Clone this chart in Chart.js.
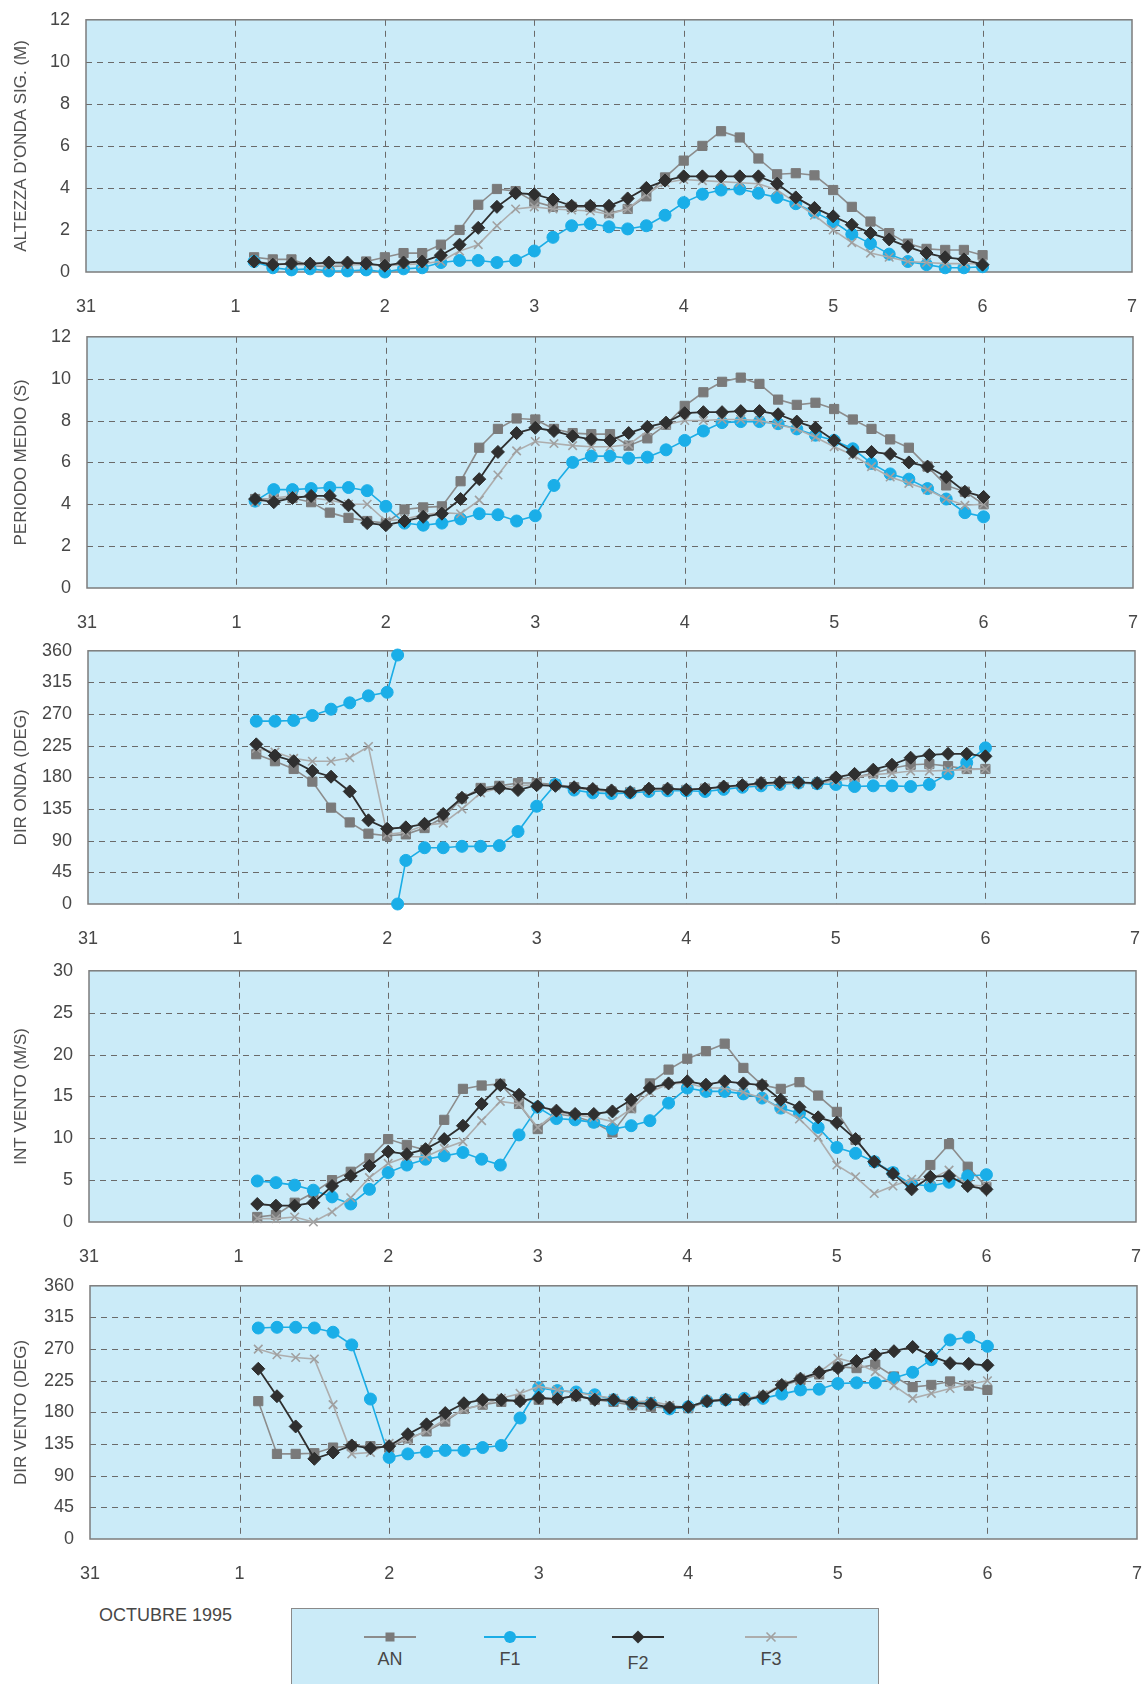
<!DOCTYPE html>
<html>
<head>
<meta charset="utf-8">
<script src="https://cdn.jsdelivr.net/npm/chart.js@4.4.1/dist/chart.umd.min.js"></script>
<style>
  html, body { margin:0; padding:0; background:#ffffff; }
  body { width:1145px; height:1684px; position:relative; overflow:hidden;
         font-family:"Liberation Sans", Arial, Helvetica, sans-serif; }
  .panel { position:absolute; left:0; width:1145px; }
  #caption { position:absolute; left:99px; top:1605px; font-size:18px; color:#474747; }
  #legend { position:absolute; left:291px; top:1608px; width:588px; height:100px;
            background:#cbebf8; border:1px solid #8a8a8a; box-sizing:border-box; }
  .lg { position:absolute; width:80px; text-align:center; font-size:18px; color:#474747; }
  .lg svg { display:block; margin:0 auto; }
</style>
</head>
<body>
<div id="caption">OCTUBRE 1995</div>
<div id="legend"></div>
<script>
// ---------- DATA ----------
const times = [1.125,1.25,1.375,1.5,1.625,1.75,1.875,2.0,2.125,2.25,
               2.375,2.5,2.625,2.75,2.875,3.0,3.125,3.25,3.375,3.5,
               3.625,3.75,3.875,4.0,4.125,4.25,4.375,4.5,4.625,4.75,
               4.875,5.0,5.125,5.25,5.375,5.5,5.625,5.75,5.875,6.0];
const xTickLabels = ['31','1','2','3','4','5','6','7'];
const seriesNames = ['AN','F1','F2','F3'];

// Altezza d'onda significativa (m)
const hsAN = [0.7,0.6,0.6,0.3,0.25,0.3,0.5,0.7,0.9,0.9, 1.3,2.0,3.2,3.95,3.85,3.35,3.1,3.1,3.1,2.8, 3.0,3.6,4.5,5.3,6.0,6.7,6.4,5.4,4.65,4.7, 4.6,3.9,3.1,2.4,1.85,1.35,1.1,1.05,1.05,0.8];
const hsF1 = [0.5,0.2,0.1,0.15,0.05,0.05,0.1,0.0,0.15,0.2, 0.45,0.55,0.55,0.45,0.55,1.0,1.65,2.2,2.3,2.15, 2.05,2.2,2.7,3.3,3.7,3.9,3.95,3.75,3.55,3.25, 2.85,2.4,1.8,1.35,0.85,0.5,0.35,0.2,0.2,0.25];
const hsF2 = [0.5,0.35,0.4,0.4,0.45,0.45,0.4,0.3,0.45,0.5, 0.8,1.3,2.1,3.1,3.75,3.7,3.45,3.15,3.15,3.15, 3.5,4.0,4.35,4.55,4.55,4.55,4.55,4.55,4.2,3.55, 3.05,2.65,2.25,1.85,1.55,1.2,0.9,0.7,0.6,0.35];
const hsF3 = [0.5,0.4,0.35,0.35,0.3,0.35,0.35,0.3,0.35,0.4, 0.5,1.0,1.3,2.2,3.0,3.1,3.0,2.95,2.9,2.75, 3.0,3.7,4.25,4.4,4.35,4.3,4.25,4.2,3.9,3.3, 2.7,2.0,1.4,0.9,0.7,0.5,0.45,0.4,0.4,0.4];

// Periodo medio (s)
const tmAN = [4.25,4.25,4.3,4.1,3.6,3.35,3.2,3.1,3.75,3.85, 3.9,5.1,6.7,7.6,8.1,8.05,7.6,7.4,7.35,7.35, 6.8,7.15,7.8,8.7,9.35,9.85,10.05,9.75,9.0,8.75, 8.85,8.55,8.05,7.6,7.1,6.7,5.8,4.9,4.6,4.0];
const tmF1 = [4.15,4.7,4.7,4.75,4.8,4.8,4.65,3.9,3.1,3.0, 3.1,3.3,3.55,3.5,3.2,3.45,4.9,6.0,6.3,6.3, 6.2,6.25,6.6,7.05,7.5,7.9,7.95,7.95,7.85,7.6, 7.3,7.05,6.65,5.95,5.45,5.2,4.75,4.25,3.6,3.4];
const tmF2 = [4.25,4.1,4.3,4.4,4.4,3.95,3.1,3.0,3.2,3.4, 3.55,4.25,5.2,6.5,7.4,7.65,7.5,7.25,7.1,7.05, 7.4,7.7,7.9,8.35,8.4,8.4,8.45,8.45,8.3,7.95, 7.65,7.05,6.5,6.5,6.4,6.0,5.8,5.3,4.6,4.35];
const tmF3 = [4.1,4.3,4.4,4.3,4.2,4.0,4.0,3.2,3.3,3.5, 3.6,3.55,4.2,5.4,6.55,7.0,6.9,6.8,6.75,6.75, 6.85,7.5,7.8,8.0,8.0,8.05,8.05,8.0,7.8,7.6, 7.2,6.75,6.35,5.8,5.3,5.0,4.7,4.25,3.95,4.0];

// Direzione onda (deg)
const dwAN = [213,203,192,174,137,116,100,97,99,108, 123,150,165,168,172,172,170,166,162,160, 159,162,163,162,164,166,168,171,172,172, 171,177,180,186,193,198,199,196,192,192];
const dwF1 = [260,260,261,268,277,286,296,301,62,80, 80,82,82,83,103,139,170,162,158,157, 158,160,161,161,160,163,166,168,170,172, 171,170,167,168,168,167,170,185,201,222];
const dwF2 = [227,211,203,189,181,160,119,107,109,114, 128,151,162,165,162,169,168,166,163.5,161.5, 159,164,164,162.5,164,167,169,172,173,173, 172,180,185,191,198,208,212,213.5,213.5,210];
const dwF3 = [221,216,207,203,203,208,224,99,102,112, 115,135,158,165,168,170,168,165,162,160, 160,162,163,163,164,166,168,170,171,172, 172,175,180,184,186,189,189,190,191,192];
// F1 wave direction crosses 360 -> 0 between 2.0 and 2.125
const dwF1WrapX = 2.07;
const dwF1WrapTop = 354;
const dwF1WrapBottom = 0;
const dwF1WrapAfterIndex = 7;

// Intensita vento (m/s)
const wsAN = [0.6,0.85,2.3,3.5,5.0,6.0,7.6,9.9,9.2,8.6, 12.2,15.9,16.3,16.5,14.1,11.1,12.9,12.6,11.9,10.7, 13.6,16.55,18.2,19.5,20.4,21.3,18.4,16.35,15.9,16.7, 15.1,13.15,9.8,7.2,5.9,4.3,6.8,9.3,6.6,4.2];
const wsF1 = [4.9,4.7,4.4,3.8,3.0,2.15,3.9,5.9,6.8,7.5, 7.9,8.3,7.5,6.8,10.4,13.7,12.35,12.2,11.9,11.1, 11.5,12.1,14.2,16.0,15.6,15.6,15.3,14.8,13.6,13.0, 11.3,8.9,8.2,7.2,5.9,4.5,4.3,4.75,5.5,5.65];
const wsF2 = [2.15,1.95,1.95,2.3,4.3,5.5,6.7,8.4,8.1,8.7, 9.9,11.5,14.1,16.35,15.2,13.8,13.3,12.9,12.9,13.2, 14.6,16.0,16.55,16.8,16.4,16.8,16.55,16.35,14.6,13.7, 12.5,11.85,9.9,7.2,5.75,3.9,5.4,5.5,4.3,3.9];
const wsF3 = [0.4,0.4,0.6,0.0,1.2,2.9,5.3,7.0,7.8,7.8, 8.8,9.6,12.1,14.4,14.1,11.3,13.1,12.8,12.5,12.0, 13.5,15.5,16.5,16.6,16.0,16.0,15.5,14.8,13.5,12.3, 10.1,6.8,5.4,3.4,4.3,5.1,5.1,6.2,4.4,4.3];

// Direzione vento (deg)
const wdAN = [196,121,121,122,130,132,132,130,143,153, 167,185,191,195,198,198,200,203,198,195, 190,188,186,186,195,198,197,203,218,226, 234,245,243,248,231,216,219,224,218,212];
const wdF1 = [300,301,301,300,294,276,199,116,121,124, 126,126,130,133,172,215,211,209,205,198, 194,193,185,188,196,198,200,200,206,212, 213,221,222,222,229,237,255,283,287,274];
const wdF2 = [242,203,160,114,123,133,129,132,149,163, 179,193,198,198,196,201,199,204,198,198, 193,192,187,188,196,198,198,203,219,228, 237,243,253,262,267,273,260,250,249,247];
const wdF3 = [270,262,258,256,191,121,123,136,141,154, 170,184,191,200,207,217,212,208,204,200, 195,196,190,187,197,199,199,205,220,229, 237,257,250,238,218,200,207,214,220,225];

// ---------- STYLE ----------
const PLOT_BG = '#cbebf8';
const TEXT = '#474747';
const FONT = '"Liberation Sans", Arial, Helvetica, sans-serif';
const styles = {
  AN: { borderColor:'#8c8c8c', backgroundColor:'#7a7a7a', pointBorderColor:'#7a7a7a', pointStyle:'rect', pointRadius:6.5, borderWidth:1.6, pointBorderWidth:1 },
  F1: { borderColor:'#1badE6', backgroundColor:'#1aaee8', pointBorderColor:'#1aaee8', pointStyle:'circle', pointRadius:6, borderWidth:1.6, pointBorderWidth:1 },
  F2: { borderColor:'#2f2f2f', backgroundColor:'#2f2f2f', pointBorderColor:'#2f2f2f', pointStyle:'rectRot', pointRadius:6.5, borderWidth:1.8, pointBorderWidth:1 },
  F3: { borderColor:'#adadad', backgroundColor:'#a5a5a5', pointBorderColor:'#a0a0a0', pointStyle:'crossRot', pointRadius:6, borderWidth:1.6, pointBorderWidth:1.6 }
};
const drawOrder = ['F2','F3','F1','AN']; // first = on top

const PAD_TOP = 22, AXIS_H = 52;

const gridPlugin = {
  id:'paperGrid',
  beforeDatasetsDraw(chart){
    const {ctx, chartArea:a, scales:{x, y}} = chart;
    ctx.save();
    ctx.fillStyle = PLOT_BG;
    ctx.fillRect(a.left, a.top, a.right - a.left, a.bottom - a.top);
    ctx.strokeStyle = '#6a6a6a';
    ctx.lineWidth = 1;
    ctx.setLineDash([6,5]);
    y.ticks.forEach(t => {
      if (t.value > y.min && t.value < y.max) {
        const py = Math.round(y.getPixelForValue(t.value)) + 0.5;
        ctx.beginPath(); ctx.moveTo(a.left, py); ctx.lineTo(a.right, py); ctx.stroke();
      }
    });
    x.ticks.forEach(t => {
      if (t.value > x.min && t.value < x.max) {
        const px = Math.round(x.getPixelForValue(t.value)) + 0.5;
        ctx.beginPath(); ctx.moveTo(px, a.top); ctx.lineTo(px, a.bottom); ctx.stroke();
      }
    });
    ctx.setLineDash([]);
    ctx.strokeStyle = '#7c7c7c';
    ctx.lineWidth = 1.5;
    ctx.strokeRect(a.left, a.top, a.right - a.left, a.bottom - a.top);
    ctx.restore();
  }
};

function pts(values){ return values.map((v,i) => ({x: times[i], y: v})); }

function dataset(name, data){
  return Object.assign({ label:name, data:data, tension:0, spanGaps:false, clip:false, fill:false }, styles[name]);
}

function wrapF1(values){
  const out = [];
  values.forEach((v,i) => {
    out.push({x: times[i], y: v});
    if (i === dwF1WrapAfterIndex) {
      out.push({x: dwF1WrapX, y: dwF1WrapTop});
      out.push({x: dwF1WrapX, y: null});
      out.push({x: dwF1WrapX, y: dwF1WrapBottom});
    }
  });
  return out;
}

const panels = [
  { box:[86,15,1132,272],   yMax:12,  yStep:2,  title:"ALTEZZA D'ONDA SIG. (M)",
    series:{AN:pts(hsAN), F1:pts(hsF1), F2:pts(hsF2), F3:pts(hsF3)} },
  { box:[87,332,1133,588],  yMax:12,  yStep:2,  title:'PERIODO MEDIO (S)',
    series:{AN:pts(tmAN), F1:pts(tmF1), F2:pts(tmF2), F3:pts(tmF3)} },
  { box:[88,646,1135,904],  yMax:360, yStep:45, title:'DIR ONDA (DEG)',
    series:{AN:pts(dwAN), F1:wrapF1(dwF1), F2:pts(dwF2), F3:pts(dwF3)} },
  { box:[89,966,1136,1222], yMax:30,  yStep:5,  title:'INT VENTO (M/S)',
    series:{AN:pts(wsAN), F1:pts(wsF1), F2:pts(wsF2), F3:pts(wsF3)} },
  { box:[90,1281,1137,1539],yMax:360, yStep:45, title:'DIR VENTO (DEG)',
    series:{AN:pts(wdAN), F1:pts(wdF1), F2:pts(wdF2), F3:pts(wdF3)} }
];

panels.forEach(p => {
  const [l,t,r,b] = p.box;
  const h = (b - t) + PAD_TOP + AXIS_H;
  const div = document.createElement('div');
  div.className = 'panel';
  div.style.top = (t - PAD_TOP) + 'px';
  div.style.height = h + 'px';
  const cv = document.createElement('canvas');
  cv.width = 1145; cv.height = h;
  cv.style.width = '1145px'; cv.style.height = h + 'px';
  div.appendChild(cv);
  document.body.appendChild(div);

  const chart = new Chart(cv, {
    type:'line',
    data:{ datasets: drawOrder.map(n => dataset(n, p.series[n])) },
    options:{
      responsive:false, animation:false, devicePixelRatio:1,
      layout:{ padding:{ top:PAD_TOP, right:1145 - r, left:0, bottom:0 } },
      plugins:{ legend:{display:false}, tooltip:{enabled:false} },
      scales:{
        x:{ type:'linear', min:0, max:7,
            afterFit(s){ s.height = AXIS_H; s.paddingLeft = 0; s.paddingRight = 0; },
            grid:{ display:false, drawTicks:false }, border:{ display:false },
            ticks:{ stepSize:1, autoSkip:false, maxRotation:0, padding:24, color:TEXT,
                    font:{ family:FONT, size:18 },
                    callback:(v) => xTickLabels[v] } },
        y:{ min:0, max:p.yMax,
            afterFit(s){ s.width = l; },
            grid:{ display:false, drawTicks:false }, border:{ display:false },
            ticks:{ stepSize:p.yStep, padding:16, color:TEXT, font:{ family:FONT, size:18 } },
            title:{ display:true, text:p.title, color:'#505050', font:{ family:FONT, size:17 }, padding:{top:11, bottom:0} } }
      }
    },
    plugins:[gridPlugin]
  });
  // layout correction so that the plot box lands where it is in the reference
  for (let i = 0; i < 3; i++) {
    const dR = chart.chartArea.right - r;
    if (Math.abs(dR) < 0.5) break;
    chart.options.layout.padding.right = Math.max(0, chart.options.layout.padding.right + dR);
    chart.update('none');
  }
});

// ---------- LEGEND ----------
const legendPos = { AN:[389,1660], F1:[509,1660], F2:[637,1664], F3:[770,1660] };
const legendEl = document.getElementById('legend');
function markerSvg(name){
  const s = styles[name];
  let m = '';
  if (name === 'AN') m = `<rect x="25.5" y="5.5" width="9" height="9" fill="${s.backgroundColor}"/>`;
  if (name === 'F1') m = `<circle cx="30" cy="10" r="6" fill="${s.backgroundColor}"/>`;
  if (name === 'F2') m = `<polygon points="30,3.5 36.5,10 30,16.5 23.5,10" fill="${s.backgroundColor}"/>`;
  if (name === 'F3') m = `<path d="M25.5,5.5 L34.5,14.5 M34.5,5.5 L25.5,14.5" stroke="${s.pointBorderColor}" stroke-width="1.6"/>`;
  return `<svg width="60" height="20" viewBox="0 0 60 20"><line x1="4" y1="10" x2="56" y2="10" stroke="${s.borderColor}" stroke-width="1.8"/>${m}</svg>`;
}
seriesNames.forEach(n => {
  const [cx, ty] = legendPos[n];
  const d = document.createElement('div');
  d.className = 'lg';
  d.style.left = (cx - 40 - 291) + 'px';
  d.style.top = (1626 - 1608) + 'px';
  d.innerHTML = markerSvg(n) + `<div style="margin-top:${ty - 1660 + 2}px">${n}</div>`;
  legendEl.appendChild(d);
});
</script>
</body>
</html>
